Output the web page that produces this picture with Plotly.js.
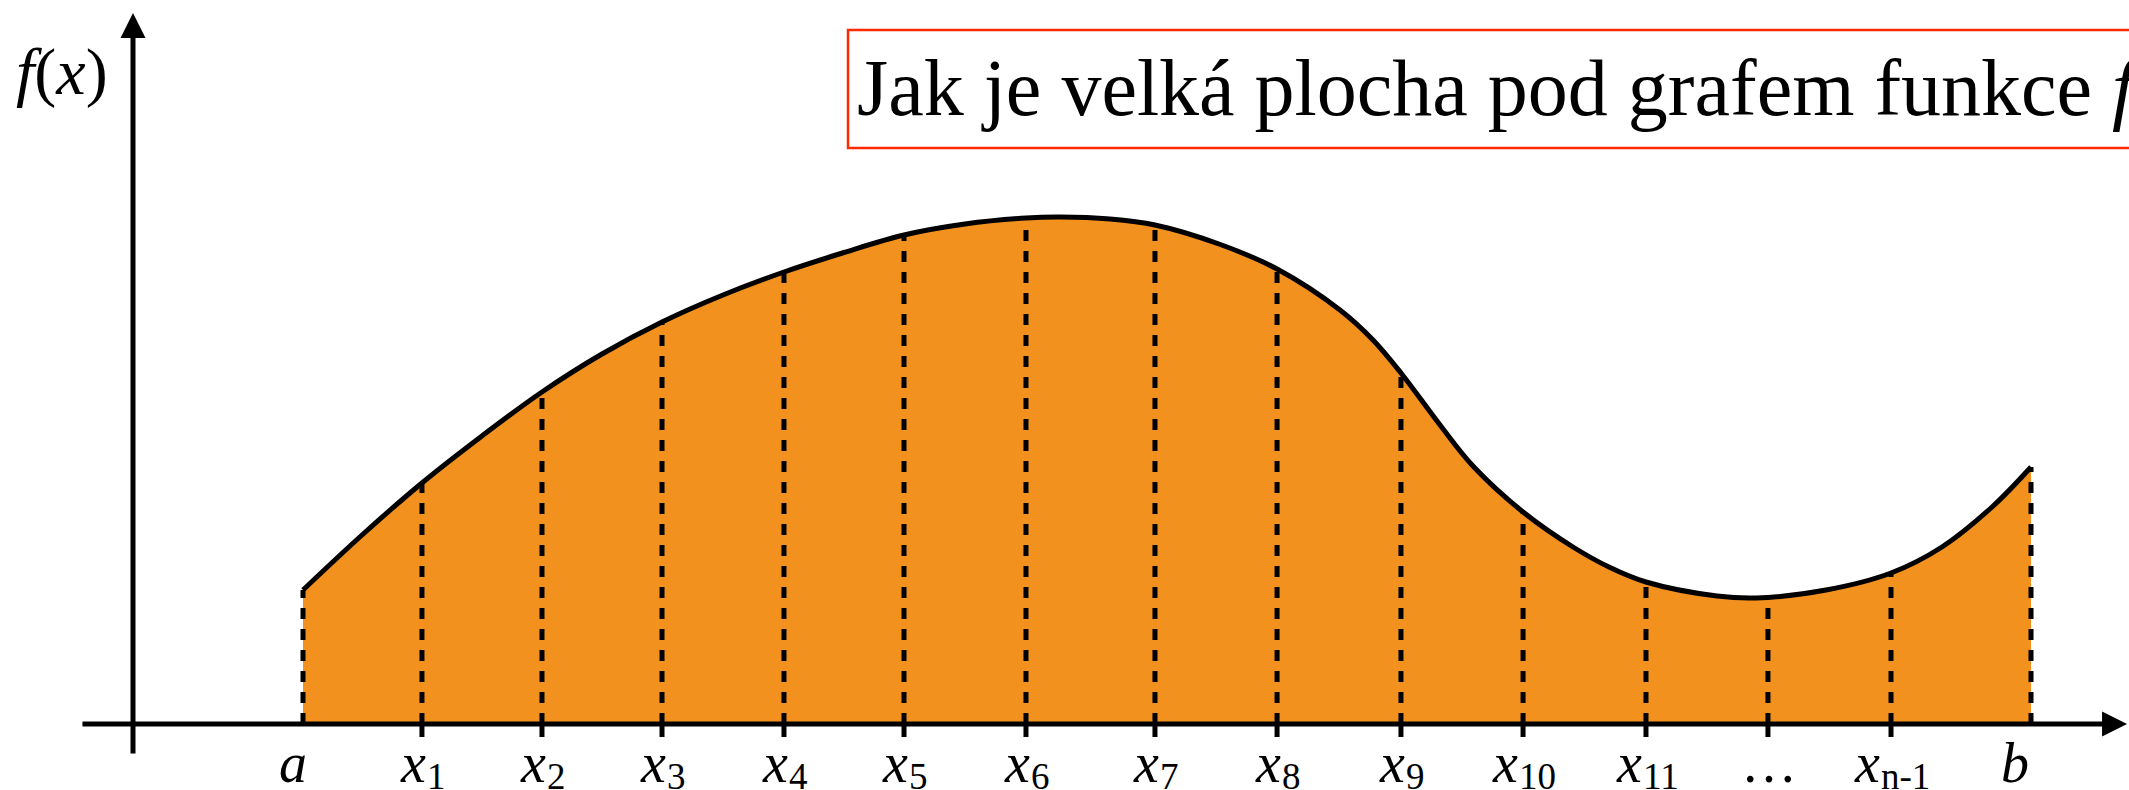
<!DOCTYPE html>
<html>
<head>
<meta charset="utf-8">
<script src="https://cdn.plot.ly/plotly-3.0.1.min.js"></script>
<style>
  html, body { margin: 0; padding: 0; background: #ffffff; overflow: hidden; }
  #chart { width: 2129px; height: 790px; }
</style>
</head>
<body>
<div id="chart"></div>
<script>
// ---- data ----
// partition points a, x1 ... x(n-1), b
const tickX = [1.405, 2.388, 3.380, 4.372, 5.380, 6.372, 7.380, 8.446, 9.455, 10.479, 11.488, 12.504, 13.512, 14.529, 15.686];
// function value at each partition point
const tickF = [1.34, 2.41, 3.32, 4.02, 4.52, 4.89, 5.06, 4.99, 4.55, 3.51, 2.12, 1.42, 1.26, 1.51, 2.57];
// tick labels: main symbol and subscript
const tickMain = ['a', 'x', 'x', 'x', 'x', 'x', 'x', 'x', 'x', 'x', 'x', 'x', '…', 'x', 'b'];
const tickSub  = ['', '1', '2', '3', '4', '5', '6', '7', '8', '9', '10', '11', '', 'n-1', ''];
// the curve f(x) between a and b
const curveX = [1.405, 1.893, 2.388, 2.884, 3.380, 3.876, 4.372, 4.876, 5.380, 5.876, 6.372, 6.876, 7.380,
  7.661, 8.074, 8.446, 8.975, 9.455, 9.975, 10.248, 10.479, 10.802, 11.074, 11.488, 11.901, 12.198,
  12.504, 13.091, 13.413, 13.992, 14.529, 14.950, 15.364, 15.686];
const curveY = [1.34, 1.89, 2.41, 2.88, 3.32, 3.70, 4.02, 4.29, 4.52, 4.715, 4.89, 5.00, 5.06,
  5.07, 5.05, 4.99, 4.80, 4.55, 4.14, 3.84, 3.51, 2.99, 2.58, 2.12, 1.77, 1.57,
  1.42, 1.28, 1.26, 1.34, 1.51, 1.77, 2.17, 2.57];
// axis extents
const xAxisExtent = [-0.43, 16.48];
const yAxisExtent = [-0.31, 7.11];
const titleText = 'Jak je velká plocha pod grafem funkce <i>f</i>';
const yLabelText = '<i>f</i>(<i>x</i>)';

// ---- styles ----
const ORANGE = '#F2911E';
const RED = '#FF2A00';
const SERIF = 'Liberation Serif, Times New Roman, serif';
const LABEL_SIZE = 56, SUB_SIZE = 37;
const X0 = -133 / 121, X1 = (2129 - 133) / 121;   // x range
const Y0 = (724 - 790) / 100, Y1 = 724 / 100;     // y range

// dashed vertical lines from axis to curve
const dashX = [], dashY = [];
tickX.forEach((x, i) => { dashX.push(x, x, null); dashY.push(0, tickF[i], null); });
// small tick marks below the axis (interior points only)
const tmX = [], tmY = [];
tickX.slice(1, -1).forEach(x => { tmX.push(x, x, null); tmY.push(0, -0.13, null); });

const traces = [
  { x: curveX, y: curveY, type: 'scatter', mode: 'lines', line: { shape: 'spline', smoothing: 1, width: 0, color: ORANGE },
    fill: 'tozeroy', fillcolor: ORANGE, hoverinfo: 'skip', showlegend: false },
  { x: dashX, y: dashY, type: 'scatter', mode: 'lines', line: { color: '#000', width: 5, dash: '11px,10px' },
    hoverinfo: 'skip', showlegend: false },
  { x: curveX, y: curveY, type: 'scatter', mode: 'lines', line: { shape: 'spline', smoothing: 1, width: 5, color: '#000' },
    hoverinfo: 'skip', showlegend: false },
  { x: tmX, y: tmY, type: 'scatter', mode: 'lines', line: { color: '#000', width: 5 },
    hoverinfo: 'skip', showlegend: false, cliponaxis: false }
];

// text measuring for subscript placement
const cv = document.createElement('canvas').getContext('2d');
function textW(t, size, italic) {
  cv.font = (italic ? 'italic ' : '') + size + 'px "Liberation Serif"';
  return cv.measureText(t).width;
}

const annotations = [];
// axes arrows
annotations.push({ x: xAxisExtent[1], y: 0, ax: xAxisExtent[0], ay: 0, xref: 'x', yref: 'y', axref: 'x', ayref: 'y',
  text: '', showarrow: true, arrowhead: 2, arrowsize: 1, arrowwidth: 5, arrowcolor: '#000', standoff: 0 });
annotations.push({ x: 0, y: yAxisExtent[1], ax: 0, ay: yAxisExtent[0], xref: 'x', yref: 'y', axref: 'x', ayref: 'y',
  text: '', showarrow: true, arrowhead: 2, arrowsize: 1, arrowwidth: 5, arrowcolor: '#000', standoff: 0 });
// tick labels
tickMain.forEach((m, i) => {
  const italic = m !== '…';
  const wMain = textW(m, LABEL_SIZE, italic);
  const sub = tickSub[i];
  const wSub = sub ? textW(sub, SUB_SIZE, false) + 2 : 0;
  let center = 0;
  if (i === 0) center = -11;
  if (i === tickMain.length - 1) center = -17;
  const start = center - (wMain + wSub) / 2;
  annotations.push({ x: tickX[i], y: -0.06, xref: 'x', yref: 'y', text: italic ? '<i>' + m + '</i>' : m,
    showarrow: false, xanchor: 'left', yanchor: 'top', xshift: start - 1,
    font: { family: SERIF, size: LABEL_SIZE, color: '#000' } });
  if (sub) {
    annotations.push({ x: tickX[i], y: -0.30, xref: 'x', yref: 'y', text: sub,
      showarrow: false, xanchor: 'left', yanchor: 'top', xshift: start + wMain + 1,
      font: { family: SERIF, size: SUB_SIZE, color: '#000' } });
  }
});
// y label
annotations.push({ x: 14 / 2129, y: 1 - 33 / 790, xref: 'paper', yref: 'paper', text: yLabelText, showarrow: false,
  xanchor: 'left', yanchor: 'top', font: { family: SERIF, size: 66, color: '#000' } });
// title in red box
annotations.push({ x: 855 / 2129, y: 1 - 42 / 790, xref: 'paper', yref: 'paper', text: titleText, showarrow: false,
  xanchor: 'left', yanchor: 'top', font: { family: SERIF, size: 80, color: '#000' } });

const layout = {
  width: 2129, height: 790,
  margin: { l: 0, r: 0, t: 0, b: 0, pad: 0 },
  paper_bgcolor: '#fff', plot_bgcolor: '#fff',
  showlegend: false,
  xaxis: { range: [X0, X1], visible: false, fixedrange: true },
  yaxis: { range: [Y0, Y1], visible: false, fixedrange: true },
  shapes: [
    { type: 'rect', xref: 'paper', yref: 'paper', x0: 848 / 2129, x1: 1.05, y0: 1 - 148 / 790, y1: 1 - 30 / 790,
      line: { color: RED, width: 2.5 }, fillcolor: 'rgba(0,0,0,0)' }
  ],
  annotations: annotations
};

Plotly.newPlot('chart', traces, layout, { staticPlot: true, displayModeBar: false });
</script>
</body>
</html>
